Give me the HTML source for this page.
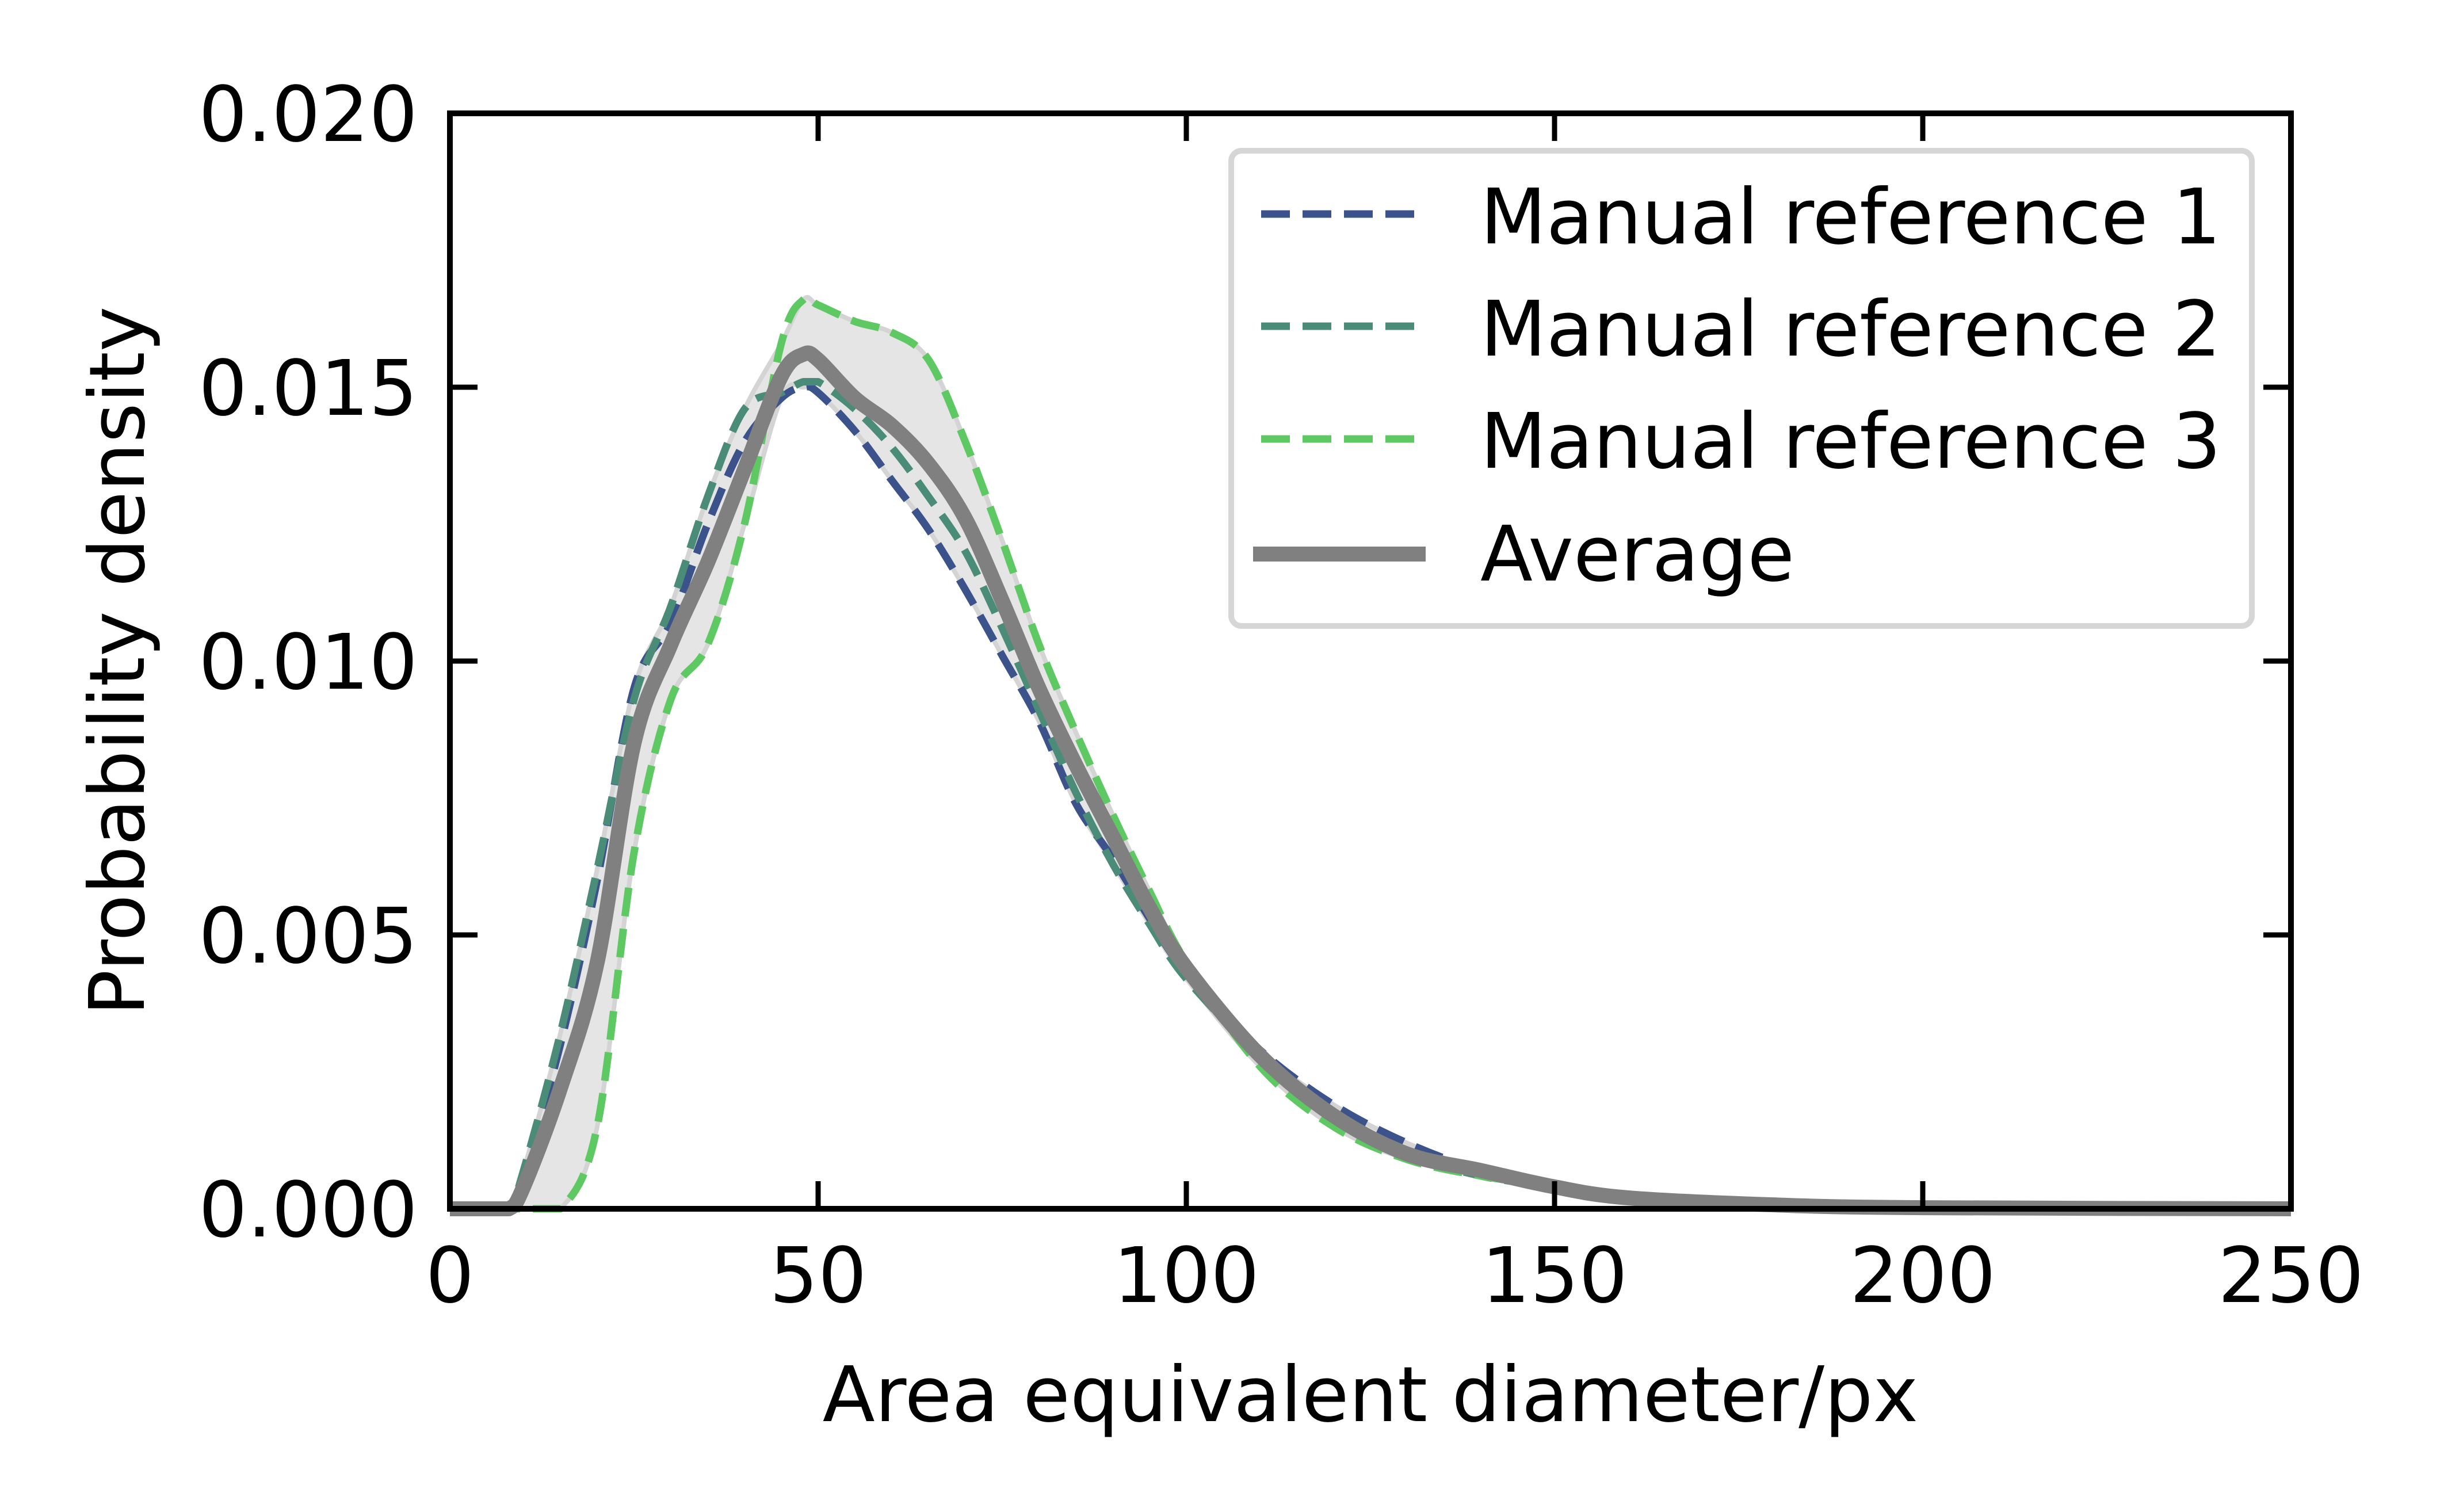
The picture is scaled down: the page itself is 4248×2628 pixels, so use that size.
<!DOCTYPE html>
<html><head><meta charset="utf-8"><style>
html,body{margin:0;padding:0;background:#fff;}
svg{display:block;font-family:"DejaVu Sans","Liberation Sans",sans-serif;}
</style></head><body>
<svg id="chart" width="4248" height="2628" viewBox="0 0 4248 2628" xmlns="http://www.w3.org/2000/svg">
<rect width="4248" height="2628" fill="#fff"/>
<g id="plot"></g>
<g id="axes"></g>
<g id="legend">
  <rect x="2140" y="262" width="1774" height="826" rx="18" fill="#fff" fill-opacity="0.8" stroke="#d6d6d6" stroke-width="10"/>
  <line x1="2192" y1="372" x2="2461" y2="372" stroke="#3b528b" stroke-width="13" stroke-dasharray="50,22"/>
  <line x1="2192" y1="567" x2="2461" y2="567" stroke="#4a8c77" stroke-width="13" stroke-dasharray="50,22"/>
  <line x1="2192" y1="763" x2="2461" y2="763" stroke="#5ec962" stroke-width="13" stroke-dasharray="50,22"/>
  <line x1="2178" y1="963" x2="2478" y2="963" stroke="#808080" stroke-width="26"/>
  <text x="2573" y="423" font-size="133">Manual reference 1</text>
  <text x="2573" y="618" font-size="133">Manual reference 2</text>
  <text x="2573" y="813" font-size="133">Manual reference 3</text>
  <text x="2573" y="1009" font-size="133">Average</text>
</g>
<text x="2382" y="2470" font-size="133" text-anchor="middle">Area equivalent diameter/px</text>
<text x="0" y="0" font-size="133" text-anchor="middle" transform="translate(250,1149) rotate(-90)">Probability density</text>
</svg>
<script>
const xs =   [0,5,8,10,15,20,25,30,35,40,45,48,50,55,60,65,70,75,80,85,90,95,100,110,120,130,140,150,160,180,200,250];
const ref1 = [0,0,0,0.0006,0.003,0.0060,0.0095,0.0107,0.0125,0.0140,0.0148,0.0150,0.0149,0.0142,0.0133,0.0124,0.0113,0.0101,0.0089,0.0074,0.0064,0.0053,0.0043,0.0029,0.0019,0.0012,0.0007,0.0004,0.0002,0.00005,0.00001,0];
const ref2 = [0,0,0,0.0007,0.0032,0.0062,0.0093,0.0110,0.0130,0.0146,0.0149,0.0151,0.0151,0.0146,0.0139,0.0130,0.0120,0.0106,0.0091,0.0076,0.0063,0.0052,0.0042,0.0028,0.0017,0.0010,0.0006,0.0004,0.0002,0.00005,0.00001,0];
const ref3 = [0,0,0,0,0,0.0015,0.0065,0.0093,0.0103,0.0125,0.0158,0.0166,0.0165,0.0162,0.0160,0.0155,0.0140,0.0122,0.0103,0.0087,0.0072,0.0058,0.0045,0.0026,0.0015,0.0009,0.0006,0.0004,0.0002,0.00005,0.00001,0];
const avg =  [0,0,0,0.0004,0.0022,0.0045,0.0085,0.0103,0.0118,0.0135,0.0152,0.0156,0.0155,0.0148,0.0143,0.0136,0.0126,0.0111,0.0095,0.0081,0.0068,0.0055,0.0044,0.0028,0.0017,0.0010,0.0007,0.0004,0.0002,0.00007,0.00002,0];
const xTicks = [0,50,100,150,200,250];
const yTicks = [0,0.005,0.010,0.015,0.020];
const yTickLabels = ["0.000","0.005","0.010","0.015","0.020"];

const X0=782,X1=3982,Y0=2101,Y1=197;
const sx=v=>X0+(v-0)/(250-0)*(X1-X0);
const sy=v=>Y0-(v-0)/(0.020)*(Y0-Y1);
const NS="http://www.w3.org/2000/svg";
function mk(tag,attrs,parent){const e=document.createElementNS(NS,tag);for(const k in attrs)e.setAttribute(k,attrs[k]);parent.appendChild(e);return e;}
function pathD(pts){
  let d="M"+pts[0][0].toFixed(1)+","+pts[0][1].toFixed(1);
  for(let i=0;i<pts.length-1;i++){
    const p0=pts[Math.max(0,i-1)],p1=pts[i],p2=pts[i+1],p3=pts[Math.min(pts.length-1,i+2)];
    let c1y=p1[1]+(p2[1]-p0[1])/6, c2y=p2[1]-(p3[1]-p1[1])/6;
    if(p1[1]===p2[1]){c1y=p1[1];c2y=p2[1];}
    c1y=Math.min(Y0,c1y);c2y=Math.min(Y0,c2y);
    d+=" C"+(p1[0]+(p2[0]-p0[0])/6).toFixed(1)+","+c1y.toFixed(1)+" "+(p2[0]-(p3[0]-p1[0])/6).toFixed(1)+","+c2y.toFixed(1)+" "+p2[0].toFixed(1)+","+p2[1].toFixed(1);
  }
  return d;
}
const plot=document.getElementById('plot');
const hiPts=xs.map((x,i)=>[sx(x),sy(Math.max(ref1[i],ref2[i],ref3[i]))]);
const loPts=xs.map((x,i)=>[sx(x),sy(Math.min(ref1[i],ref2[i],ref3[i]))]);
const lowRev=loPts.slice().reverse();
const band=mk('path',{d:pathD(hiPts)+" L"+pathD(lowRev).slice(1)+" Z",fill:"#e5e5e5",stroke:"#d4d4d4","stroke-width":8},plot);


const series=[[ref1,"#3b528b",13,"50,22","line-ref1"],[ref2,"#4a8c77",13,"50,22","line-ref2"],[ref3,"#5ec962",13,"50,22","line-ref3"],[avg,"#808080",26,"","line-average"]];
series.forEach(s=>{
  const pts=xs.map((x,i)=>[sx(x),sy(s[0][i])]);
  const a={d:pathD(pts),fill:"none",stroke:s[1],"stroke-width":s[2],"stroke-linejoin":"round"};
  if(s[3])a["stroke-dasharray"]=s[3];
  const p=mk('path',a,plot);
  
  
});
const axes=document.getElementById('axes');
const fr=mk('rect',{x:X0,y:Y1,width:X1-X0,height:Y0-Y1,fill:"none",stroke:"#000","stroke-width":10},axes);


xTicks.forEach(v=>{
  const x=sx(v);
  const t1=mk('line',{x1:x,y1:Y0,x2:x,y2:Y0-48,stroke:"#000","stroke-width":9},axes);
  
  
  const t2=mk('line',{x1:x,y1:Y1,x2:x,y2:Y1+48,stroke:"#000","stroke-width":9},axes);
  
  
  const tl=mk('text',{x:x,y:2263,"font-size":133,"text-anchor":"middle"},axes);
  tl.textContent=String(v);
  
  
});
yTicks.forEach((v,i)=>{
  const y=sy(v);
  const t1=mk('line',{x1:X0,y1:y,x2:X0+48,y2:y,stroke:"#000","stroke-width":9},axes);
  
  
  const t2=mk('line',{x1:X1,y1:y,x2:X1-48,y2:y,stroke:"#000","stroke-width":9},axes);
  
  
  const tl=mk('text',{x:726,y:y+48,"font-size":133,"text-anchor":"end"},axes);
  tl.textContent=yTickLabels[i];
  
  
});
</script>
</body></html>
